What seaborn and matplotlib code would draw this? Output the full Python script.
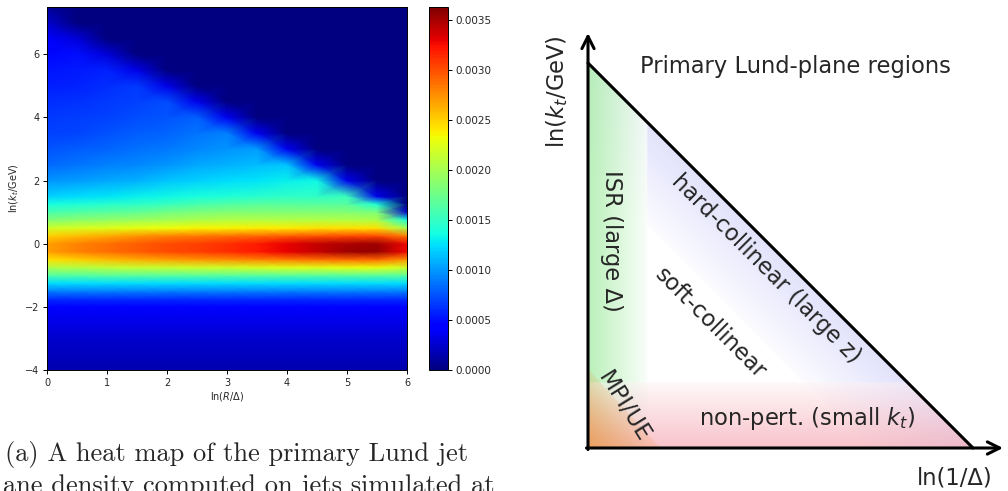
import numpy as np
import pandas as pd
import matplotlib
matplotlib.use("Agg")
import matplotlib.pyplot as plt
from matplotlib.patches import Polygon
import seaborn as sns

# ------------------------------------------------------------------ data
colorbar_max = 0.00363
colorbar_ticks = [0.0000, 0.0005, 0.0010, 0.0015, 0.0020, 0.0025, 0.0030, 0.0035]
x_ticks = [0, 1, 2, 3, 4, 5, 6]
y_ticks = [-4, -2, 0, 2, 4, 6]

# sampling nodes of the density map (ln(R/Delta), ln(kt/GeV))
x_nodes = [0.0, 0.5, 1.0, 1.5, 2.0, 2.5, 3.0, 3.5, 4.0, 4.5, 5.0, 5.5, 6.0]
y_nodes = [-4, -3.5, -3, -2.5, -2, -1.75, -1.5, -1.25, -1, -0.75, -0.5, -0.25, 0,
           0.25, 0.5, 0.75, 1, 1.25, 1.5, 2, 2.5, 3, 3.5, 4, 4.5, 5, 5.5, 6, 6.5, 7, 7.5]

# density, as a fraction of the colour-bar maximum, one list per ln(R/Delta) column
dens_x0_0 = [0.04, 0.055, 0.07, 0.09, 0.125, 0.17, 0.25, 0.34, 0.45, 0.56, 0.67, 0.74, 0.74, 0.69, 0.60, 0.51,
             0.44, 0.38, 0.33, 0.27, 0.23, 0.21, 0.19, 0.18, 0.17, 0.155, 0.145, 0.13, 0.12, 0.07, 0.02]
dens_x0_5 = [0.04, 0.055, 0.07, 0.09, 0.125, 0.17, 0.25, 0.34, 0.45, 0.57, 0.69, 0.77, 0.77, 0.71, 0.61, 0.52,
             0.45, 0.39, 0.34, 0.28, 0.24, 0.215, 0.195, 0.185, 0.175, 0.16, 0.15, 0.14, 0.08, 0.0, 0.0]
dens_x1_0 = [0.04, 0.055, 0.07, 0.09, 0.125, 0.17, 0.25, 0.34, 0.46, 0.58, 0.71, 0.79, 0.79, 0.73, 0.62, 0.53,
             0.46, 0.40, 0.35, 0.29, 0.25, 0.225, 0.205, 0.19, 0.18, 0.17, 0.16, 0.08, 0.0, 0.0, 0.0]
dens_x1_5 = [0.04, 0.055, 0.07, 0.09, 0.125, 0.17, 0.25, 0.34, 0.46, 0.59, 0.73, 0.81, 0.81, 0.75, 0.63, 0.54,
             0.47, 0.41, 0.36, 0.30, 0.26, 0.235, 0.215, 0.20, 0.19, 0.18, 0.09, 0.0, 0.0, 0.0, 0.0]
dens_x2_0 = [0.04, 0.055, 0.07, 0.09, 0.125, 0.17, 0.25, 0.34, 0.46, 0.59, 0.74, 0.83, 0.83, 0.77, 0.64, 0.55,
             0.49, 0.42, 0.37, 0.32, 0.27, 0.245, 0.225, 0.21, 0.20, 0.09, 0.0, 0.0, 0.0, 0.0, 0.0]
dens_x2_5 = [0.04, 0.055, 0.07, 0.09, 0.125, 0.17, 0.25, 0.34, 0.46, 0.60, 0.75, 0.84, 0.84, 0.78, 0.65, 0.56,
             0.50, 0.44, 0.38, 0.33, 0.29, 0.26, 0.24, 0.22, 0.095, 0.0, 0.0, 0.0, 0.0, 0.0, 0.0]
dens_x3_0 = [0.04, 0.055, 0.07, 0.09, 0.125, 0.17, 0.25, 0.34, 0.46, 0.60, 0.76, 0.86, 0.86, 0.79, 0.65, 0.57,
             0.51, 0.45, 0.39, 0.34, 0.30, 0.27, 0.25, 0.10, 0.0, 0.0, 0.0, 0.0, 0.0, 0.0, 0.0]
dens_x3_5 = [0.04, 0.055, 0.07, 0.09, 0.125, 0.17, 0.25, 0.34, 0.46, 0.61, 0.77, 0.88, 0.88, 0.80, 0.66, 0.57,
             0.51, 0.46, 0.40, 0.35, 0.31, 0.28, 0.10, 0.0, 0.0, 0.0, 0.0, 0.0, 0.0, 0.0, 0.0]
dens_x4_0 = [0.04, 0.055, 0.07, 0.09, 0.125, 0.17, 0.25, 0.34, 0.46, 0.62, 0.78, 0.91, 0.91, 0.81, 0.66, 0.57,
             0.51, 0.46, 0.41, 0.36, 0.32, 0.10, 0.0, 0.0, 0.0, 0.0, 0.0, 0.0, 0.0, 0.0, 0.0]
dens_x4_5 = [0.04, 0.055, 0.07, 0.09, 0.125, 0.17, 0.25, 0.34, 0.46, 0.62, 0.79, 0.94, 0.94, 0.82, 0.67, 0.57,
             0.51, 0.46, 0.41, 0.37, 0.10, 0.0, 0.0, 0.0, 0.0, 0.0, 0.0, 0.0, 0.0, 0.0, 0.0]
dens_x5_0 = [0.04, 0.055, 0.07, 0.09, 0.125, 0.17, 0.25, 0.34, 0.46, 0.63, 0.80, 0.97, 0.96, 0.83, 0.67, 0.57,
             0.51, 0.46, 0.42, 0.095, 0.0, 0.0, 0.0, 0.0, 0.0, 0.0, 0.0, 0.0, 0.0, 0.0, 0.0]
dens_x5_5 = [0.04, 0.055, 0.07, 0.09, 0.125, 0.17, 0.25, 0.34, 0.46, 0.63, 0.80, 0.98, 0.97, 0.83, 0.67, 0.56,
             0.50, 0.39, 0.095, 0.0, 0.0, 0.0, 0.0, 0.0, 0.0, 0.0, 0.0, 0.0, 0.0, 0.0, 0.0]
dens_x6_0 = [0.04, 0.055, 0.07, 0.09, 0.125, 0.17, 0.25, 0.34, 0.46, 0.60, 0.75, 0.90, 0.90, 0.78, 0.55, 0.38,
             0.07, 0.0, 0.0, 0.0, 0.0, 0.0, 0.0, 0.0, 0.0, 0.0, 0.0, 0.0, 0.0, 0.0, 0.0]

caption_line1 = "(a) A heat map of the primary Lund jet"
caption_line2 = "ane density computed on jets simulated at"

diagram_title = "Primary Lund-plane regions"
diagram_xlabel = "ln(1/Δ)"
diagram_ylabel = r"ln($k_t$/GeV)"
region_names = ["ISR (large Δ)", "hard-collinear (large z)", "soft-collinear",
                "MPI/UE", r"non-pert. (small $k_t$)"]

# ------------------------------------------------------------------ style
sns.set_style("white")
plt.rcParams["font.family"] = ["DejaVu Sans"]
plt.rcParams["mathtext.fontset"] = "dejavusans"

W, H = 1008, 491
fig = plt.figure(figsize=(W / 100, H / 100), dpi=100)


def frac_box(x0, y0, x1, y1):
    """pixel box (left, top, right, bottom) -> figure fraction rect"""
    return [x0 / W, 1 - y1 / H, (x1 - x0) / W, (y1 - y0) / H]


# ------------------------------------------------------------------ heat map
density = pd.DataFrame(
    {x: col for x, col in zip(x_nodes, [dens_x0_0, dens_x0_5, dens_x1_0, dens_x1_5, dens_x2_0,
                                          dens_x2_5, dens_x3_0, dens_x3_5, dens_x4_0, dens_x4_5,
                                          dens_x5_0, dens_x5_5, dens_x6_0])},
    index=y_nodes) * colorbar_max

ax = fig.add_axes(frac_box(47, 7, 407, 370))
XX, YY = np.meshgrid(density.columns.values.astype(float), density.index.values.astype(float))
mesh = ax.pcolormesh(XX, YY, density.values, shading="gouraud", cmap="jet",
                     vmin=0, vmax=colorbar_max, rasterized=True)
ax.set_xlim(0, 6)
ax.set_ylim(-4, 7.5)
ax.set_xticks(x_ticks)
ax.set_yticks(y_ticks)
ax.tick_params(axis="both", which="both", bottom=True, left=True, labelsize=7,
               length=3, width=0.7, color="black", pad=2.5)
for s in ax.spines.values():
    s.set_color("black")
    s.set_linewidth(0.7)
ax.set_xlabel(r"ln($R$/Δ)", fontsize=7, labelpad=2)
ax.set_ylabel(r"ln($k_t$/GeV)", fontsize=7, labelpad=3)

cax = fig.add_axes(frac_box(429, 7, 448, 370))
cb = fig.colorbar(mesh, cax=cax, ticks=colorbar_ticks)
cb.ax.set_yticklabels([f"{t:.4f}" for t in colorbar_ticks])
cb.ax.tick_params(labelsize=7.5, length=3, width=0.7, right=True, color="black", pad=2.5)
cb.outline.set_edgecolor("black")
cb.outline.set_linewidth(0.7)

# caption (serif, LaTeX-like)
fig.text(5 / W, 1 - 461 / H, caption_line1, family="cmr10", fontsize=19, va="baseline", ha="left")
fig.text(3 / W, 1 - 493 / H, caption_line2, family="cmr10", fontsize=19, va="baseline", ha="left")

# ------------------------------------------------------------------ Lund plane diagram
ox, oy, L = 588, 448, 385.0  # pixel origin and leg length of the triangle
dx0, dx1 = (540 - ox) / L, (W - ox) / L
dy0, dy1 = (oy - H) / L, (oy - 0) / L
ax2 = fig.add_axes(frac_box(540, 0, W, H))
ax2.set_xlim(dx0, dx1)
ax2.set_ylim(dy0, dy1)
ax2.axis("off")

# soft coloured regions
n = 500
g = np.linspace(0, 1, n)
GX, GY = np.meshgrid(g, g)
rgb = np.ones((n, n, 3))


def over(img, color, alpha):
    a = np.clip(alpha, 0, 1)[..., None]
    return img * (1 - a) + np.array(color)[None, None, :] * a


dist = (1 - GX - GY) / np.sqrt(2)
rgb = over(rgb, (0.45, 0.45, 0.95), np.where((dist >= 0) & (dist < 0.19), 0.21 - 0.19 * dist / 0.19, 0))
isr_w = 0.153
rgb = over(rgb, (1, 1, 1), np.where(GX < isr_w, 0.8, 0))
rgb = over(rgb, (0.30, 0.85, 0.30), np.where(GX < isr_w, 0.36 * (1 - GX / isr_w) + 0.03, 0))
np_h = 0.17
rgb = over(rgb, (1, 1, 1), np.where(GY < np_h, 0.45, 0))
rgb = over(rgb, (0.93, 0.38, 0.45), np.where(GY < np_h, 0.34 * (1 - GY / np_h) + 0.04, 0))
s = GX / 0.187 + GY / 0.203
rgb = over(rgb, (0.95, 0.56, 0.20), np.where(s < 1, 0.15 + 0.5 * (1 - s), 0))

tri = Polygon([(0, 0), (1, 0), (0, 1)], closed=True, facecolor="none", edgecolor="none",
              transform=ax2.transData)
ax2.add_patch(tri)
im = ax2.imshow(rgb, extent=(0, 1, 0, 1), origin="lower", interpolation="bilinear", zorder=1)
im.set_clip_path(tri)

lw = 2.2
sns.lineplot(x=[0, 1], y=[1, 0], ax=ax2, color="black", linewidth=lw, zorder=3)
arrow = dict(arrowstyle="->", lw=lw, color="black", mutation_scale=22, shrinkA=0, shrinkB=0)
ax2.annotate("", xy=(0, (oy - 33) / L), xytext=(0, -0.004), arrowprops=arrow, zorder=4)
ax2.annotate("", xy=((1003 - ox) / L, 0), xytext=(-0.004, 0), arrowprops=arrow, zorder=4)

fs = 16.3
ax2.text(0.538, 0.99, diagram_title, fontsize=fs, ha="center", va="center")
ax2.text(0.953, -0.078, diagram_xlabel, fontsize=fs, ha="center", va="center")
ax2.text(-0.08, 0.925, diagram_ylabel, fontsize=fs, ha="center", va="center", rotation=90)
ax2.text(0.062, 0.538, region_names[0], fontsize=fs, ha="center", va="center", rotation=-90)
ax2.text(0.462, 0.465, region_names[1], fontsize=fs, ha="center", va="center", rotation=-45,
         rotation_mode="anchor")
ax2.text(0.319, 0.324, region_names[2], fontsize=fs, ha="center", va="center", rotation=-45,
         rotation_mode="anchor")
ax2.text(0.092, 0.107, region_names[3], fontsize=fs, ha="center", va="center", rotation=-58,
         rotation_mode="anchor")
ax2.text(0.57, 0.077, region_names[4], fontsize=fs, ha="center", va="center")

fig.savefig("out.png", dpi=100)
